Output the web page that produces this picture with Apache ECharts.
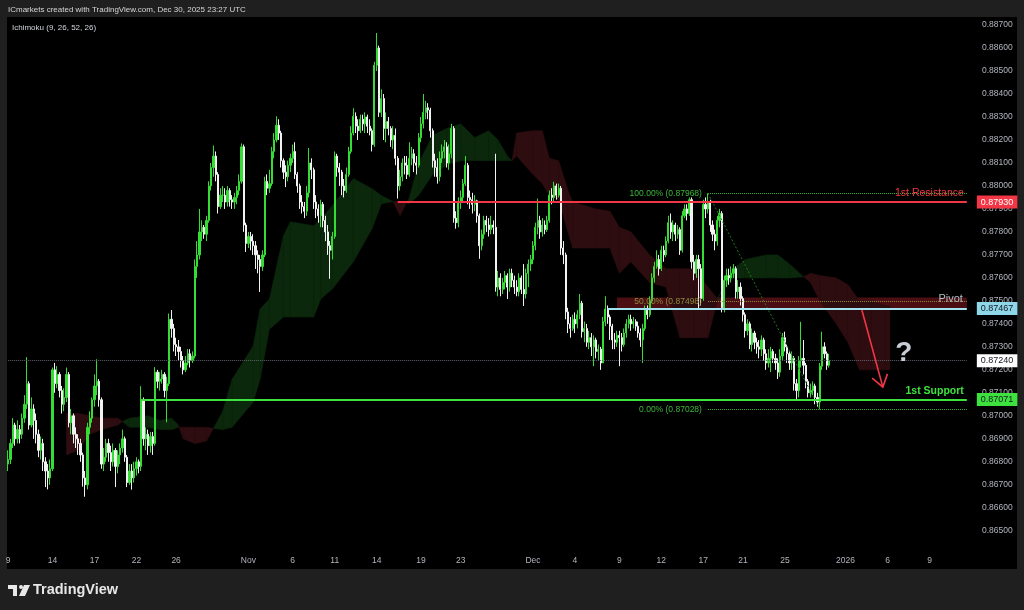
<!DOCTYPE html>
<html><head><meta charset="utf-8">
<script src="https://cdn.jsdelivr.net/npm/echarts@6/dist/echarts.min.js"></script>
<style>html,body{margin:0;padding:0;background:#1f1f1f;}#c{width:1024px;height:610px;}</style>
</head><body><div id="c"></div>
<script>
// ---------- DATA ----------
const firstOpen = 0.86790;
const closes = [
.86810,.86880,.86960,.86900,.86940,.86920,.86990,.87050,.87140,.86960,
.87030,.86980,.86920,.86850,.86880,.86800,.86760,.86730,.86770,.87200,
.87140,.87180,.87110,.87050,.87080,.87180,.86970,.87000,.86920,.86900,
.86880,.86830,.86730,.86700,.86950,.86990,.87070,.87130,.87150,.87070,
.86790,.86820,.86880,.86840,.86800,.86850,.86780,.86830,.86860,.86900,
.86820,.86710,.86760,.86730,.86770,.86800,.86780,.87070,.86900,.86920,
.86870,.86910,.86880,.87190,.87150,.87160,.87180,.87110,.87140,.87420,
.87380,.87310,.87300,.87280,.87240,.87200,.87230,.87270,.87240,.87260,
.87650,.87700,.87800,.87820,.87790,.87850,.88000,.88080,.88130,.88050,
.87910,.87960,.87960,.87930,.87980,.87940,.87930,.87950,.87980,.88020,
.88170,.87830,.87750,.87780,.87760,.87740,.87700,.87680,.87650,.87700,
.88020,.87990,.88010,.88150,.88200,.88264,.88230,.88110,.88060,.88040,
.88090,.88120,.88150,.88050,.88000,.87930,.87910,.87890,.87970,.88100,
.88070,.87930,.87900,.87870,.87920,.87850,.87800,.87740,.87720,.87780,
.88130,.88080,.88060,.88000,.87980,.88050,.88150,.88230,.88303,.88260,
.88240,.88290,.88270,.88300,.88260,.88240,.88180,.88525,.88600,.88320,
.88380,.88250,.88280,.88250,.88200,.88220,.88120,.88000,.88040,.88100,
.88090,.88050,.88120,.88140,.88100,.88090,.88210,.88270,.88320,.88340,
.88330,.88240,.88110,.88080,.88040,.88120,.88150,.88170,.88100,.88140,
.88250,.87860,.87840,.87930,.87950,.88010,.88090,.87950,.87940,.87920,
.87935,.87870,.87740,.87790,.87850,.87830,.87810,.87830,.87820,.87560,
.87600,.87550,.87580,.87610,.87560,.87620,.87590,.87560,.87540,.87600,
.87550,.87530,.87620,.87660,.87680,.87740,.87820,.87850,.87800,.87830,
.87810,.87850,.87960,.87950,.88000,.87960,.87990,.87730,.87700,.87452,
.87400,.87380,.87420,.87400,.87440,.87490,.87366,.87380,.87320,.87340,
.87300,.87330,.87280,.87290,.87230,.87410,.87465,.87430,.87390,.87330,
.87320,.87350,.87340,.87310,.87360,.87400,.87420,.87400,.87410,.87390,
.87360,.87330,.87380,.87460,.87440,.87500,.87600,.87650,.87680,.87640,
.87720,.87700,.87760,.87840,.87800,.87830,.87790,.87810,.87720,.87870,
.87900,.87880,.87940,.87670,.87620,.87680,.87640,.87510,.87920,.87900,
.87930,.87830,.87790,.87760,.87850,.87880,.87470,.87590,.87610,.87600,
.87620,.87640,.87540,.87560,.87510,.87440,.87370,.87400,.87310,.87360,
.87320,.87300,.87290,.87330,.87270,.87230,.87250,.87280,.87250,.87230,
.87190,.87260,.87340,.87300,.87270,.87230,.87250,.87140,.87110,.87240,
.87250,.87220,.87150,.87100,.87110,.87130,.87080,.87060,.87216,.87300,
.87270,.87220,.87240];
const highs = [
.86850,.86900,.86990,.86970,.86980,.86960,.87010,.87090,.87255,.87150,
.87080,.87050,.87010,.86940,.86910,.86900,.86820,.86790,.86810,.87210,
.87230,.87216,.87190,.87130,.87120,.87210,.87190,.87030,.87010,.86950,
.86920,.86900,.86840,.86760,.86970,.87020,.87080,.87180,.87246,.87160,
.87080,.86860,.86900,.86900,.86870,.86880,.86860,.86850,.86880,.86940,
.86910,.86830,.86790,.86790,.86800,.86820,.86810,.87129,.87080,.86950,
.86940,.86930,.86930,.87212,.87200,.87190,.87200,.87190,.87170,.87445,
.87460,.87400,.87340,.87330,.87300,.87260,.87260,.87290,.87290,.87280,
.87680,.87760,.87900,.87850,.87830,.87870,.88020,.88100,.88176,.88150,
.88060,.87990,.88000,.87990,.88000,.87990,.87960,.87970,.88000,.88050,
.88185,.88180,.87840,.87800,.87800,.87790,.87760,.87720,.87700,.87720,
.88040,.88050,.88070,.88170,.88230,.88303,.88290,.88240,.88120,.88090,
.88110,.88140,.88180,.88190,.88060,.88010,.87960,.87930,.88000,.88165,
.88120,.88080,.87960,.87920,.87940,.87930,.87870,.87830,.87760,.87800,
.88150,.88140,.88100,.88070,.88030,.88080,.88170,.88260,.88338,.88320,
.88290,.88310,.88310,.88320,.88310,.88290,.88250,.88540,.88665,.88610,
.88420,.88400,.88320,.88300,.88260,.88260,.88250,.88130,.88070,.88120,
.88130,.88130,.88190,.88170,.88160,.88130,.88230,.88300,.88400,.88370,
.88360,.88340,.88250,.88140,.88120,.88150,.88180,.88200,.88190,.88180,
.88270,.88260,.87890,.87950,.87980,.88030,.88130,.88100,.87980,.87970,
.87960,.87940,.87880,.87810,.87870,.87870,.87860,.87870,.87850,.88140,
.87630,.87620,.87600,.87630,.87620,.87640,.87640,.87610,.87590,.87620,
.87610,.87660,.87640,.87680,.87700,.87760,.87840,.87945,.87870,.87860,
.87850,.87870,.87980,.87990,.88018,.88010,.88010,.88000,.87760,.87710,
.87470,.87430,.87440,.87450,.87460,.87530,.87500,.87410,.87400,.87370,
.87360,.87350,.87340,.87310,.87300,.87430,.87520,.87480,.87440,.87400,
.87360,.87370,.87370,.87360,.87380,.87420,.87440,.87440,.87430,.87420,
.87410,.87380,.87400,.87480,.87480,.87520,.87620,.87670,.87720,.87700,
.87740,.87740,.87780,.87870,.87880,.87850,.87840,.87830,.87820,.87890,
.87920,.87920,.87950,.87950,.87700,.87700,.87700,.87660,.87940,.87950,
.87968,.87940,.87850,.87810,.87870,.87900,.87890,.87610,.87640,.87640,
.87650,.87660,.87650,.87590,.87580,.87520,.87450,.87420,.87410,.87380,
.87370,.87340,.87330,.87350,.87340,.87290,.87290,.87300,.87290,.87270,
.87250,.87290,.87360,.87366,.87310,.87280,.87280,.87260,.87160,.87260,
.87409,.87330,.87230,.87160,.87140,.87150,.87140,.87100,.87230,.87366,
.87320,.87280,.87270];
const lows = [
.86760,.86790,.86860,.86870,.86880,.86880,.86900,.86970,.87030,.86940,
.86950,.86900,.86880,.86820,.86810,.86760,.86690,.86680,.86700,.86760,
.87100,.87120,.87080,.87010,.87020,.87060,.86950,.86920,.86880,.86860,
.86830,.86800,.86692,.86648,.86680,.86920,.86970,.87040,.87090,.87040,
.86770,.86760,.86800,.86800,.86760,.86780,.86690,.86750,.86790,.86840,
.86800,.86690,.86700,.86679,.86710,.86740,.86750,.86760,.86870,.86850,
.86830,.86840,.86830,.86870,.87120,.87110,.87140,.87080,.86972,.87130,
.87340,.87280,.87260,.87240,.87210,.87180,.87190,.87220,.87210,.87230,
.87250,.87600,.87680,.87760,.87770,.87760,.87840,.87980,.88040,.88020,
.87880,.87900,.87930,.87900,.87910,.87910,.87900,.87900,.87920,.87960,
.88010,.87800,.87713,.87730,.87720,.87700,.87639,.87620,.87539,.87630,
.87690,.87960,.87970,.88000,.88120,.88190,.88200,.88080,.88030,.87995,
.88020,.88060,.88100,.88030,.87970,.87900,.87880,.87860,.87870,.87950,
.88030,.87900,.87860,.87840,.87820,.87820,.87760,.87700,.87596,.87680,
.87770,.88040,.88000,.87960,.87950,.87970,.88040,.88140,.88220,.88230,
.88200,.88230,.88240,.88230,.88230,.88220,.88150,.88170,.88500,.88300,
.88300,.88200,.88190,.88220,.88170,.88160,.88090,.87945,.87980,.88020,
.88050,.88030,.88040,.88090,.88060,.88050,.88080,.88190,.88250,.88290,
.88290,.88210,.88080,.88040,.88010,.88020,.88100,.88120,.88080,.88070,
.88120,.87840,.87814,.87820,.87900,.87930,.88000,.87920,.87900,.87880,
.87890,.87840,.87683,.87720,.87770,.87800,.87780,.87790,.87790,.87540,
.87520,.87520,.87530,.87550,.87508,.87540,.87560,.87530,.87520,.87520,
.87530,.87478,.87510,.87560,.87630,.87660,.87720,.87790,.87770,.87780,
.87790,.87800,.87840,.87920,.87930,.87940,.87950,.87700,.87660,.87420,
.87360,.87340,.87370,.87360,.87380,.87420,.87340,.87320,.87300,.87290,
.87260,.87216,.87250,.87240,.87200,.87280,.87390,.87400,.87330,.87290,
.87290,.87300,.87216,.87280,.87300,.87340,.87380,.87370,.87380,.87370,
.87340,.87300,.87230,.87370,.87420,.87430,.87490,.87580,.87640,.87610,
.87630,.87670,.87690,.87750,.87770,.87760,.87760,.87770,.87700,.87710,
.87860,.87850,.87870,.87640,.87590,.87600,.87465,.87480,.87500,.87860,
.87880,.87800,.87760,.87720,.87740,.87820,.87450,.87450,.87560,.87570,
.87580,.87600,.87510,.87510,.87480,.87410,.87340,.87350,.87290,.87280,
.87290,.87270,.87250,.87260,.87240,.87200,.87210,.87190,.87230,.87200,
.87160,.87170,.87240,.87280,.87230,.87200,.87200,.87110,.87071,.87080,
.87210,.87180,.87120,.87080,.87080,.87090,.87050,.87040,.87028,.87200,
.87250,.87200,.87210];

// Ichimoku cloud (Senkou span A / B) read at bar indices
const cloudIdx = [25,30,35,40,47,49,52,60,65,70,73,75,80,85,88,92,96,105,108,112,118,121,131,134,139,148,156,160,165,168,172,176,182,188,194,200,206,210,214,216,218,225,229,232,236,240,242,252,258,262,267,275,282,288,294,300,304,308,311,316,325,330,335,341,344,348,355,360,365,370,376,378];
const spanA = [.86830,.86850,.86920,.86940,.86960,.86975,.86990,.87000,.86980,.86990,.86960,.86900,.86880,.86890,.86945,.87020,.87159,.87303,.87465,.87508,.87783,.87844,.87827,.87858,.87914,.88032,.87988,.87958,.87932,.87871,.87950,.88100,.88220,.88250,.88270,.88210,.88240,.88200,.88130,.88110,.88130,.88050,.88010,.87960,.87940,.87800,.87730,.87730,.87730,.87620,.87670,.87580,.87560,.87340,.87340,.87340,.87500,.87600,.87640,.87680,.87700,.87700,.87660,.87605,.87580,.87500,.87400,.87320,.87200,.87200,.87200,.87200];
const spanB = [.87010,.87010,.87000,.86990,.86990,.86975,.86950,.86950,.86940,.86940,.86950,.86950,.86950,.86950,.86945,.86940,.86950,.87059,.87159,.87377,.87430,.87430,.87430,.87508,.87552,.87670,.87814,.87923,.87932,.87932,.87923,.87960,.88050,.88090,.88110,.88110,.88110,.88110,.88110,.88110,.88230,.88240,.88240,.88120,.88110,.87980,.87930,.87900,.87890,.87820,.87800,.87700,.87640,.87640,.87640,.87560,.87510,.87570,.87600,.87600,.87600,.87600,.87600,.87605,.87620,.87610,.87600,.87570,.87500,.87500,.87480,.87480];

// x-axis ticks (bar index where the day starts) and labels
const tickIdx = [0,19,37,55,72,103,122,140,158,177,194,225,243,262,280,298,315,333,359,377,395];
const tickLbl = ['9','14','17','22','26','Nov','6','11','14','19','23','Dec','4','9','12','17','21','25','2026','6','9'];

// levels
const resistance = 0.87930, pivot = 0.87467, support = 0.87071, lastPrice = 0.87240;
const fib100 = 0.87968, fib50 = 0.87498, fib0 = 0.87028;
const zoneTop = 0.87515;
const resStart = 167, supStart = 57, pivStart = 257, zoneStart = 261, fibStart = 300, fibEnd = 348;
const arrowFrom = [366, 0.87460], arrowTo = [375, 0.87125];
const questionAt = [384, 0.87273];
const N = 412;

// ---------- BUILD ----------
const cats = Array.from({length:N}, (_, i) => String(i));
const candles = closes.map((c, i) => {
  const o = i === 0 ? firstOpen : closes[i-1];
  return [o, c, Math.min(lows[i], o, c), Math.max(highs[i], o, c)];
});
const cloudSeg = [];
for (let k = 0; k < cloudIdx.length - 1; k++) {
  cloudSeg.push([cloudIdx[k], spanA[k], spanB[k], cloudIdx[k+1], spanA[k+1], spanB[k+1]]);
}
const tickMap = {}; tickIdx.forEach((t, k) => tickMap[t] = tickLbl[k]);

const FONT = 'Liberation Sans';
const UP = '#33dd33', DOWN = '#f2f2f2';
const pxPer = 22.99; // px per 0.001
const gridTop = 25 - pxPer;
const gridH = 24 * pxPer;

function priceBox(v, bg, fg) {
  return [{ coord: [N - 2, v], lineStyle: { color: 'rgba(0,0,0,0)', width: 1 },
    label: { show: true, position: 'end', distance: 10, formatter: v.toFixed(5),
      backgroundColor: bg, color: fg, padding: [2, 4, 1, 4], fontSize: 9, fontFamily: FONT, lineHeight: 10 } },
    { coord: [N - 1, v] }];
}

const chart = echarts.init(document.getElementById('c'), null, { renderer: 'canvas' });
chart.setOption({
  animation: false,
  backgroundColor: '#1f1f1f',
  graphic: { elements: [
    { type: 'rect', z: -100, shape: { x: 7, y: 17, width: 1010, height: 552 }, style: { fill: '#000000' } },
    { type: 'text', z: 10, x: 8, y: 10, style: { text: 'ICmarkets created with TradingView.com, Dec 30, 2025 23:27 UTC', fill: '#d6d6d6', fontSize: 8, fontFamily: FONT, verticalAlign: 'middle', textVerticalAlign: 'middle' } },
    { type: 'text', z: 10, x: 12, y: 28, style: { text: 'Ichimoku (9, 26, 52, 26)', fill: '#d1d4dc', fontSize: 8, fontFamily: FONT, verticalAlign: 'middle', textVerticalAlign: 'middle' } },
    { type: 'rect', z: 10, shape: { x: 8, y: 585, width: 9, height: 4 }, style: { fill: '#e8e8e8' } },
    { type: 'rect', z: 10, shape: { x: 13, y: 585, width: 4, height: 11 }, style: { fill: '#e8e8e8' } },
    { type: 'circle', z: 10, shape: { cx: 21, cy: 587, r: 2 }, style: { fill: '#e8e8e8' } },
    { type: 'polygon', z: 10, shape: { points: [[24, 585], [30, 585], [25, 596], [19, 596]] }, style: { fill: '#e8e8e8' } },
    { type: 'text', z: 10, x: 33, y: 590, style: { text: 'TradingView', fill: '#e8e8e8', fontSize: 14.5, fontWeight: 'bold', fontFamily: FONT, verticalAlign: 'middle', textVerticalAlign: 'middle' } }
  ]},
  grid: { left: 7, right: 56, top: gridTop, height: gridH, containLabel: false },
  xAxis: {
    type: 'category', data: cats, boundaryGap: true,
    axisLine: { show: false }, axisTick: { show: false }, splitLine: { show: false },
    axisLabel: { interval: (i) => tickMap[i] !== undefined, formatter: (v) => tickMap[Number(v)] || '',
      color: '#b2b5be', fontSize: 8.5, fontFamily: FONT, margin: 2 }
  },
  yAxis: {
    type: 'value', position: 'right', min: 0.864, max: 0.888, interval: 0.001, scale: true,
    axisLine: { show: false }, axisTick: { show: false }, splitLine: { show: false },
    axisLabel: { showMinLabel: false, showMaxLabel: false, formatter: (v) => v.toFixed(5),
      color: '#b2b5be', fontSize: 8.5, fontFamily: FONT, margin: 14, align: 'left' }
  },
  series: [
    { type: 'custom', name: 'cloud', z: 1, data: cloudSeg, encode: { x: [0, 3], y: [1, 2, 4, 5] },
      renderItem: (params, api) => {
        const i0 = api.value(0), a0 = api.value(1), b0 = api.value(2), i1 = api.value(3), a1 = api.value(4), b1 = api.value(5);
        const pts = [api.coord([i0, a0]), api.coord([i1, a1]), api.coord([i1, b1]), api.coord([i0, b0])];
        const col = (a0 + a1) >= (b0 + b1) ? '#0b270c' : '#2d0d10';
        return { type: 'polygon', shape: { points: pts }, style: { fill: col, stroke: col, lineWidth: 0.6 } };
      } },
    { type: 'line', name: 'zone', z: 1.5, data: [], markArea: { silent: true,
      itemStyle: { color: 'rgba(125,24,32,0.6)' },
      data: [[{ coord: [zoneStart, zoneTop] }, { coord: [N - 1, pivot] }]] } },
    { type: 'candlestick', name: 'price', z: 2, data: candles, barWidth: 1.7,
      itemStyle: { color: UP, color0: DOWN, borderColor: UP, borderColor0: DOWN, borderWidth: 1 } },
    { type: 'line', name: 'levels', z: 4, data: [], markLine: { silent: true, symbol: ['none', 'none'], animation: false,
      data: [
        [{ coord: [0, lastPrice], lineStyle: { color: '#5d606b', type: 'dotted', width: 1 }, label: { show: false } }, { coord: [N - 1, lastPrice] }],
        [{ coord: [fibStart, fib100], lineStyle: { color: '#3cb83c', type: 'dotted', width: 1 },
           label: { show: true, position: 'start', distance: 6, formatter: '100.00% (0.87968)', color: '#3cb83c', fontSize: 8.5, fontFamily: FONT } }, { coord: [N - 1, fib100] }],
        [{ coord: [fibStart, fib50], lineStyle: { color: '#8f8a3c', type: 'dotted', width: 1 },
           label: { show: true, position: 'start', distance: 6, formatter: '50.00% (0.87498)', color: '#8f8a3c', fontSize: 8.5, fontFamily: FONT } }, { coord: [N - 1, fib50] }],
        [{ coord: [fibStart, fib0], lineStyle: { color: '#3cb83c', type: 'dotted', width: 1 },
           label: { show: true, position: 'start', distance: 6, formatter: '0.00% (0.87028)', color: '#3cb83c', fontSize: 8.5, fontFamily: FONT } }, { coord: [N - 1, fib0] }],
        [{ coord: [fibStart, fib100], lineStyle: { color: '#1c7a1c', type: [2, 2], width: 1 }, label: { show: false } }, { coord: [fibEnd, fib0] }],
        [{ coord: [resStart, resistance], lineStyle: { color: '#f23645', type: 'solid', width: 2 },
           label: { show: true, position: 'insideEndTop', distance: 3, formatter: '1st Resistance', color: '#f23645', fontSize: 10.5, fontFamily: FONT } }, { coord: [N - 1, resistance] }],
        [{ coord: [pivStart, pivot], lineStyle: { color: '#a3e2ef', type: 'solid', width: 2 },
           label: { show: true, position: 'insideEndTop', distance: 4, formatter: 'Pivot', color: '#aebfc8', fontSize: 11, fontFamily: FONT } }, { coord: [N - 1, pivot] }],
        [{ coord: [supStart, support], lineStyle: { color: '#3ee23e', type: 'solid', width: 2 },
           label: { show: true, position: 'insideEndTop', distance: 3, formatter: '1st Support', color: '#3ee23e', fontSize: 10.5, fontWeight: 'bold', fontFamily: FONT } }, { coord: [N - 1, support] }],
        priceBox(resistance, '#f23645', '#ffffff'),
        priceBox(pivot, '#8fd6e8', '#131722'),
        priceBox(lastPrice, '#ffffff', '#131722'),
        priceBox(support, '#3ee23e', '#131722')
      ] },
      markPoint: { silent: true, symbol: 'circle', symbolSize: 0,
        data: [{ coord: questionAt, label: { show: true, position: 'inside', formatter: '?', color: '#c9cdd6', fontSize: 28, fontWeight: 'bold', fontFamily: FONT } }] } },
    { type: 'custom', name: 'arrow', z: 5, data: [[arrowFrom[0], arrowFrom[1], arrowTo[0], arrowTo[1]]], encode: { x: [0, 2], y: [1, 3] },
      renderItem: (params, api) => {
        const s = api.coord([api.value(0), api.value(1)]), e = api.coord([api.value(2), api.value(3)]);
        const ang = Math.atan2(e[1] - s[1], e[0] - s[0]), L = 14, sp = 0.6;
        const h1 = [e[0] - L * Math.cos(ang - sp), e[1] - L * Math.sin(ang - sp)];
        const h2 = [e[0] - L * Math.cos(ang + sp), e[1] - L * Math.sin(ang + sp)];
        return { type: 'group', children: [
          { type: 'polyline', shape: { points: [s, e] }, style: { stroke: '#f23645', lineWidth: 1.6, fill: null } },
          { type: 'polyline', shape: { points: [h1, e, h2] }, style: { stroke: '#f23645', lineWidth: 1.6, fill: null } }
        ] };
      } }
  ]
});
</script></body></html>
